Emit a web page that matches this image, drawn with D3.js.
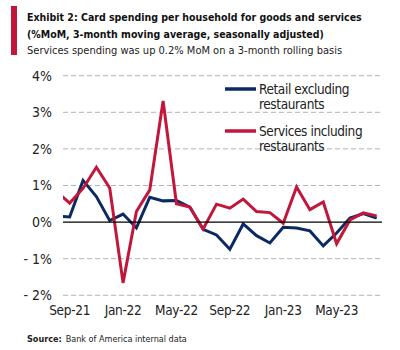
<!DOCTYPE html>
<html>
<head>
<meta charset="utf-8">
<script src="https://cdn.jsdelivr.net/npm/d3@7"></script>
<style>
  body { margin: 0; background: #fff; }
  text { font-family: "Liberation Sans Narrow", "DejaVu Sans Condensed", "Open Sans", sans-serif; }
</style>
</head>
<body>
<div id="chart"></div>
<script>
// Months from Aug-21 to Aug-23 (index -1 = Aug-21, 0 = Sep-21)
var months = ["Aug-21","Sep-21","Oct-21","Nov-21","Dec-21","Jan-22","Feb-22","Mar-22","Apr-22","May-22","Jun-22","Jul-22",
              "Aug-22","Sep-22","Oct-22","Nov-22","Dec-22","Jan-23","Feb-23","Mar-23","Apr-23","May-23","Jun-23","Jul-23","Aug-23"];

// %MoM, 3-month moving average
var retailValues = [0.16, 0.14, 1.14, 0.70, 0.04, 0.22, -0.16, 0.68, 0.58, 0.59, 0.41, -0.20,
                    -0.35, -0.74, -0.05, -0.37, -0.57, -0.14, -0.16, -0.24, -0.65, -0.30, 0.11, 0.23, 0.11];
var servicesValues = [0.84, 0.52, 0.92, 1.50, 0.93, -1.66, 0.29, 0.88, 3.31, 0.50, 0.41, -0.19,
                      0.49, 0.38, 0.63, 0.29, 0.26, -0.03, 0.96, 0.34, 0.55, -0.59, 0.06, 0.25, 0.17];

var yTicks = [-2, -1, 0, 1, 2, 3, 4];
var xTickLabels = ["Sep-21", "Jan-22", "May-22", "Sep-22", "Jan-23", "May-23"];

var seriesNames = [["Retail excluding", "restaurants"], ["Services including", "restaurants"]];
var seriesColors = ["#0b2a63", "#c2173b"];

var width = 400, height = 350;

var svg = d3.select("#chart").append("svg")
    .attr("width", width)
    .attr("height", height);

// shrink a text's font size until it fits the width seen in the picture
function fitText(sel, maxWidth) {
    var size = parseFloat(sel.style("font-size"));
    while (sel.node().getComputedTextLength() > maxWidth && size > 6) {
        size -= 0.25;
        sel.style("font-size", size + "px");
    }
}

// Title block
svg.append("rect")
    .attr("x", 11).attr("y", 6)
    .attr("width", 6).attr("height", 49)
    .style("fill", "#c2173b");

var t1 = svg.append("text")
    .attr("x", 27).attr("y", 21)
    .style("font-size", "13.5px").style("font-weight", "bold").style("fill", "#111")
    .text("Exhibit 2: Card spending per household for goods and services");
fitText(t1, 335);
var t2 = svg.append("text")
    .attr("x", 27).attr("y", 38)
    .style("font-size", "13.5px").style("font-weight", "bold").style("fill", "#111")
    .text("(%MoM, 3-month moving average, seasonally adjusted)");
fitText(t2, 298);
var t3 = svg.append("text")
    .attr("x", 27).attr("y", 54)
    .style("font-size", "13.5px").style("fill", "#222")
    .text("Services spending was up 0.2% MoM on a 3-month rolling basis");
fitText(t3, 321);

// Scales
var x = d3.scaleLinear().domain([-0.5, 23.4]).range([63, 382]);
var y = d3.scaleLinear().domain([-2, 4]).range([295.3, 75.7]);

// Gridlines
svg.append("g").selectAll("line")
    .data(yTicks.filter(function (d) { return d !== 0; }))
    .enter().append("line")
    .attr("x1", x.range()[0]).attr("x2", x.range()[1])
    .attr("y1", function (d) { return y(d); })
    .attr("y2", function (d) { return y(d); })
    .style("stroke", "#b3b3b3")
    .style("stroke-width", 1)
    .style("stroke-dasharray", "5,3");

// Y axis labels
svg.append("g").selectAll("text")
    .data(yTicks)
    .enter().append("text")
    .attr("x", 52)
    .attr("y", function (d) { return y(d); })
    .attr("dy", "0.35em")
    .style("text-anchor", "end")
    .style("font-size", "14px")
    .style("fill", "#222")
    .text(function (d) { return (d < 0 ? "- " + Math.abs(d) : d) + "%"; });

// X axis labels every 4 months
svg.append("g").selectAll("text")
    .data(xTickLabels)
    .enter().append("text")
    .attr("x", function (d) { return x(months.indexOf(d) - 1); })
    .attr("y", 310)
    .attr("dy", "0.35em")
    .style("text-anchor", "middle")
    .style("font-size", "13.5px")
    .style("letter-spacing", "-0.3px")
    .style("fill", "#222")
    .text(function (d) { return d; });

// Clip for lines
svg.append("clipPath").attr("id", "plotClip")
    .append("rect")
    .attr("x", x.range()[0]).attr("y", 0)
    .attr("width", x.range()[1] - x.range()[0] + 5).attr("height", height);

var line = d3.line()
    .x(function (d, i) { return x(i - 1); })
    .y(function (d) { return y(d); });

var plot = svg.append("g").attr("clip-path", "url(#plotClip)");

[retailValues, servicesValues].forEach(function (vals, k) {
    plot.append("path")
        .datum(vals)
        .attr("d", line)
        .style("fill", "none")
        .style("stroke", seriesColors[k])
        .style("stroke-width", 3)
        .style("stroke-linejoin", "miter");
});

// Zero line
svg.append("line")
    .attr("x1", x.range()[0]).attr("x2", x.range()[1])
    .attr("y1", y(0)).attr("y2", y(0))
    .style("stroke", "#000")
    .style("stroke-width", 1.3);

// Legend
var legend = svg.append("g").selectAll("g")
    .data(seriesNames)
    .enter().append("g")
    .attr("transform", function (d, i) { return "translate(225," + (89 + i * 42) + ")"; });

legend.append("line")
    .attr("x1", 0).attr("x2", 31)
    .attr("y1", 0).attr("y2", 0)
    .style("stroke", function (d, i) { return seriesColors[i]; })
    .style("stroke-width", 3.5);

legend.append("text")
    .attr("x", 34).attr("y", 0)
    .attr("dy", "0.35em")
    .style("font-size", "13.5px")
    .style("letter-spacing", "-0.4px")
    .style("fill", "#222")
    .text(function (d) { return d[0]; });

legend.append("text")
    .attr("x", 34).attr("y", 15)
    .attr("dy", "0.35em")
    .style("font-size", "13.5px")
    .style("letter-spacing", "-0.4px")
    .style("fill", "#222")
    .text(function (d) { return d[1]; });

// Source
var source = svg.append("text")
    .attr("x", 27).attr("y", 342)
    .style("font-size", "9px")
    .style("fill", "#222");
source.append("tspan").style("font-weight", "bold").text("Source:");
source.append("tspan").attr("dx", 4).text("Bank of America internal data");
</script>
</body>
</html>
